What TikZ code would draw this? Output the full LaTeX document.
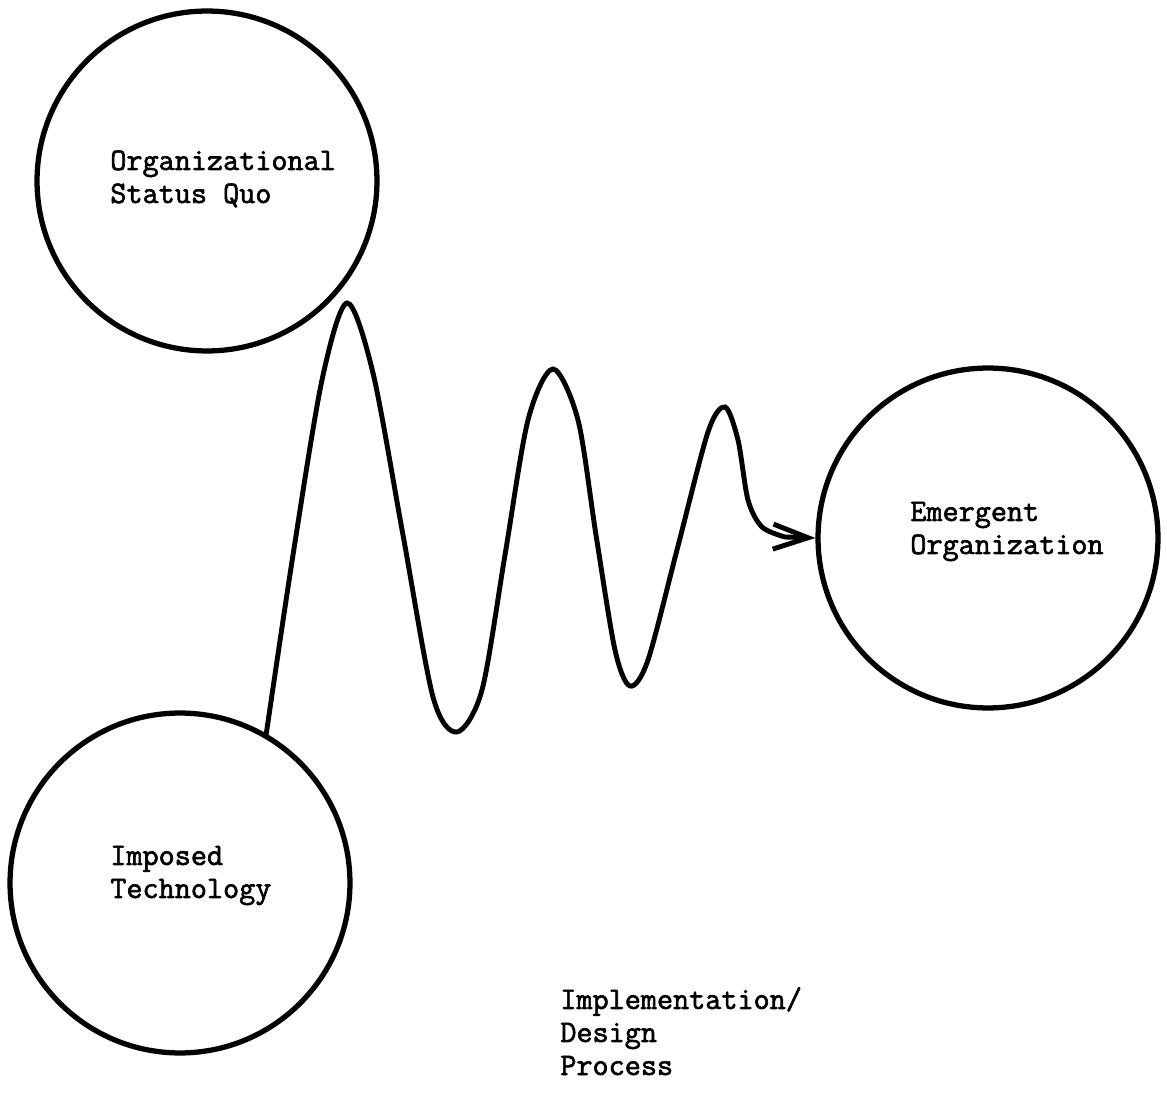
\documentclass[tikz,border=0pt]{standalone}
\usepackage{fontspec}
\newfontfamily\typewriter[FakeBold=2]{Latin Modern Mono}
\usetikzlibrary{arrows.meta}

\begin{document}
\begin{tikzpicture}[
    x=0.02cm, y=-0.02cm,
    blob/.style={circle, draw=black, line width=3pt, minimum size=6.8cm, inner sep=0pt},
    typed/.style={anchor=base west, align=left, inner sep=0pt, font=\typewriter\fontsize{17.8}{18.8}\selectfont},
    wave/.style={draw=black, line width=2.8pt, line cap=round, -{Straight Barb[length=7mm, width=5mm]}}
]
    \useasboundingbox (0,0) rectangle (1167,1097);

    \node[blob] (statusquo) at (207,181) {};
    \node[blob] (tech) at (180,883) {};
    \node[blob] (emergent) at (988,538) {};

    % base anchor sits on the last line of each label
    \node[typed] (statusquo_text) at (110,203) {Organizational\\Status Quo};
    \node[typed] (tech_text) at (110,898) {Imposed\\Technology};
    \node[typed] (emergent_text) at (910,554) {Emergent\\Organization};
    \node[typed] (process_text) at (560,1075) {Implementation/\\Design\\Process};

    % Damped wave from imposed technology to emergent organization
    \draw[wave] plot[smooth, tension=0.5] coordinates {
        (tech.60) (293,555) (322,380) (347,303) (373,373) (403,535)
        (433,697) (457,732) (482,690) (505,555) (528,420) (553,369)
        (578,420) (596,535) (615,650) (630,686) (648,660) (678,546)
        (708,432) (725,407) (738,440) (748,500) (762,527) (785,537)}
        -- (emergent.west);
\end{tikzpicture}
\end{document}
